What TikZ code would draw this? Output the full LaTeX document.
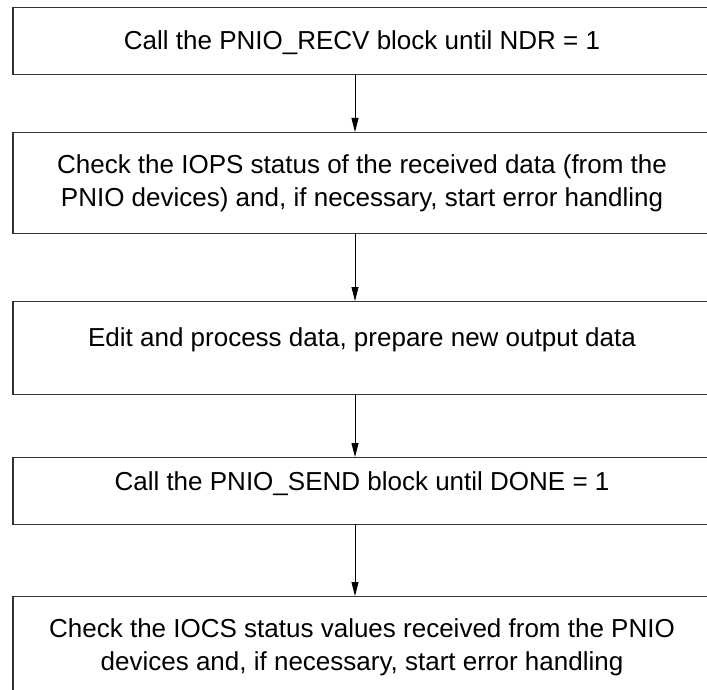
\documentclass[tikz,border=0pt]{standalone}
\usepackage{fontspec}
\setmainfont{Liberation Sans}
\usetikzlibrary{arrows.meta}
\tikzset{
  stage/.style={draw=black!80, line width=1.3pt, minimum width=698pt,
    inner xsep=0pt, inner ysep=0pt, anchor=north, align=center,
    font=\fontsize{26}{33}\selectfont},
  flow/.style={-{Triangle[length=14pt,width=7pt]}, line width=0.9pt},
}
\begin{document}
\begin{tikzpicture}[x=1pt, y=-1pt]
  \useasboundingbox (0,0) rectangle (707,690);
  % the five steps, top to bottom
  \node[stage, text height=42.3pt, text depth=24.7pt] (recv) at (362,7)
    {Call the PNIO\_RECV block until NDR = 1};
  \node[stage, minimum height=101pt] (iops) at (362,132)
    {Check the IOPS status of the received data (from the\\
     PNIO devices) and, if necessary, start error handling};
  \node[stage, text height=45.3pt, text depth=47.7pt] (edit) at (362,301)
    {Edit and process data, prepare new output data};
  \node[stage, text height=33.3pt, text depth=33.7pt] (send) at (362,457)
    {Call the PNIO\_SEND block until DONE = 1};
  \node[stage, minimum height=101pt] (iocs) at (362,596)
    {Check the IOCS status values received from the PNIO\\
     devices and, if necessary, start error handling};
  % arrows between the steps
  \foreach \a/\b in {recv/iops, iops/edit, edit/send, send/iocs}
    {
      \draw[flow] ([xshift=-7pt]\a.south) -- ([xshift=-7pt]\b.north);
    }
\end{tikzpicture}
\end{document}
